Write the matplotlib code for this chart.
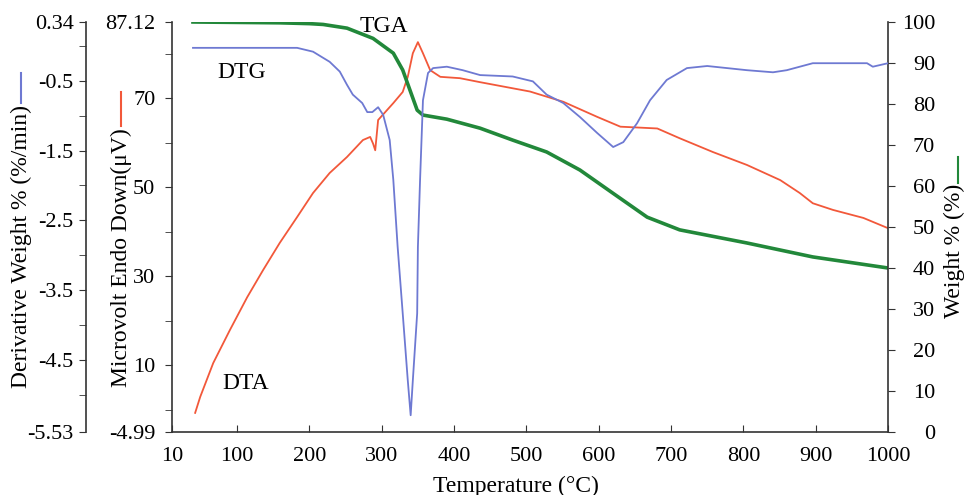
import matplotlib
matplotlib.use('Agg')
import matplotlib.pyplot as plt
from matplotlib.lines import Line2D
from matplotlib.ticker import FixedLocator

plt.rcParams['font.family'] = ['Liberation Serif', 'DejaVu Serif']
plt.rcParams['axes.unicode_minus'] = False

# TGA - weight % (right axis)
tga_temp = [39, 100, 159, 200, 219, 252, 288, 316, 329, 339, 349, 357, 390,
            436, 481, 528, 574, 620, 667, 712, 805, 896, 1000]
tga_wt = [100, 99.9, 99.8, 99.6, 99.4, 98.5, 96, 92.4, 88.3, 83.4, 78.5, 77.3,
          76.3, 74.1, 71.2, 68.3, 63.9, 58.2, 52.4, 49.3, 46.1, 42.7, 40]

# DTG - derivative weight %/min (outer left axis)
dtg_temp = [39, 183, 205, 228, 242, 252, 260, 273, 280, 287, 295, 302, 311,
            316, 322, 329, 336, 340, 343, 349, 350, 353, 357, 364, 371, 390,
            412, 436, 481, 509, 528, 551, 574, 598, 620, 634, 653, 671, 694,
            722, 750, 805, 841, 860, 896, 971, 979, 1000]
dtg_val = [-0.03, -0.03, -0.085, -0.23, -0.37, -0.56, -0.70, -0.82, -0.95,
           -0.95, -0.88, -0.99, -1.35, -1.92, -2.88, -3.83, -4.79, -5.29,
           -4.79, -3.83, -2.88, -1.92, -0.78, -0.39, -0.32, -0.30, -0.35,
           -0.42, -0.44, -0.51, -0.70, -0.82, -1.02, -1.25, -1.45, -1.38,
           -1.11, -0.78, -0.49, -0.32, -0.29, -0.35, -0.38, -0.35, -0.25,
           -0.25, -0.30, -0.25]

# DTA - microvolt (inner left axis)
dta_temp = [42, 49, 67, 90, 114, 136, 159, 183, 205, 228, 252, 274, 284, 288,
            291, 295, 316, 329, 336, 343, 350, 357, 367, 381, 408, 436, 505,
            551, 598, 630, 643, 681, 712, 758, 805, 851, 878, 896, 924, 966,
            1000]
dta_val = [-0.7, 2.9, 10.5, 17.9, 25.3, 31.4, 37.5, 43.3, 48.7, 53.2, 56.8,
           60.6, 61.3, 59.8, 58.3, 65.1, 68.9, 71.4, 74.8, 80.1, 82.6, 80.1,
           76.3, 74.8, 74.5, 73.6, 71.5, 69.2, 65.8, 63.6, 63.5, 63.2, 61.0,
           57.9, 55.0, 51.6, 48.7, 46.4, 44.9, 43.1, 40.8]

x_ticks = [10, 100, 200, 300, 400, 500, 600, 700, 800, 900, 1000]
dta_ticks = [87.12, 70, 50, 30, 10, -4.99]
dta_labels = ['87.12', '70', '50', '30', '10', '-4.99']
dtg_ticks = [0.34, -0.5, -1.5, -2.5, -3.5, -4.5, -5.53]
dtg_labels = ['0.34', '-0.5', '-1.5', '-2.5', '-3.5', '-4.5', '-5.53']
wt_ticks = list(range(0, 101, 10))

GREEN = '#22883a'
BLUE = '#6e79d2'
RED = '#f2583a'
AXCOL = '#333333'
FS = 16
LFS = 17

fig = plt.figure(figsize=(9.66, 4.95), dpi=100)
ax = fig.add_axes([172 / 966, 1 - 432 / 495, 716 / 966, 410 / 495])
ax_w = ax.twinx()
ax_d = ax.twinx()

ax.plot(dta_temp, dta_val, color=RED, lw=1.3)
ax_d.plot(dtg_temp, dtg_val, color=BLUE, lw=1.3)
ax_w.plot(tga_temp, tga_wt, color=GREEN, lw=2.6)

ax.set_xlim(10, 1000)
ax.set_ylim(-4.99, 87.12)
ax_w.set_ylim(0, 100)
ax_d.set_ylim(-5.53, 0.34)

ax.set_xticks(x_ticks)
ax.set_yticks(dta_ticks)
ax.set_yticklabels(dta_labels)
ax.yaxis.set_minor_locator(FixedLocator([80, 60, 40, 20, 0]))
ax_w.set_yticks(wt_ticks)
ax_d.set_yticks(dtg_ticks)
ax_d.set_yticklabels(dtg_labels)
ax_d.yaxis.set_minor_locator(FixedLocator([0, -1, -2, -3, -4, -5]))

# spines
for a in (ax, ax_w, ax_d):
    a.spines['top'].set_visible(False)
    for s in a.spines.values():
        s.set_color(AXCOL)
        s.set_linewidth(1.2)
ax.spines['right'].set_visible(False)
ax_w.spines['left'].set_visible(False)
ax_w.spines['bottom'].set_visible(False)
ax_d.spines['right'].set_visible(False)
ax_d.spines['bottom'].set_visible(False)
ax_d.spines['left'].set_visible(True)
ax_d.spines['left'].set_position(('axes', -0.12))
ax_d.yaxis.set_ticks_position('left')

ax.tick_params(axis='x', direction='in', length=5, labelsize=FS, pad=11,
               color=AXCOL)
ax.tick_params(axis='y', which='both', length=5, labelsize=FS, pad=7,
               color=AXCOL)
# right axis labels are right-aligned in the original
ax_w.tick_params(axis='y', length=5, labelsize=FS, pad=29, color=AXCOL)
for lbl in ax_w.get_yticklabels():
    lbl.set_horizontalalignment('right')
ax_d.tick_params(axis='y', which='both', length=5, labelsize=FS, pad=4,
                 color=AXCOL)

# curve labels
ax.text(303, 86, 'TGA', fontsize=17, ha='center', va='center')
ax.text(107, 75.7, 'DTG', fontsize=17, ha='center', va='center')
ax.text(112, 5.8, 'DTA', fontsize=17, ha='center', va='center')

# axis titles with colour keys
fig.text(516 / 966, 1 - 486 / 495, 'Temperature (°C)',
         fontsize=LFS, ha='center', va='center')
fig.text(21 / 966, 1 - 105 / 495, 'Derivative Weight % (%/min)',
         fontsize=LFS, rotation=90, ha='center', va='top')
fig.text(121 / 966, 1 - 128 / 495, 'Microvolt Endo Down(μV)',
         fontsize=LFS, rotation=90, ha='center', va='top')
fig.text(954 / 966, 1 - 184 / 495, 'Weight % (%)',
         fontsize=LFS, rotation=90, ha='center', va='top')

for xp, y0, y1, col in [(20.7, 73, 103, BLUE), (120.7, 92, 126, RED),
                        (958, 157, 183, GREEN)]:
    fig.add_artist(Line2D([xp / 966, xp / 966], [1 - y0 / 495, 1 - y1 / 495],
                          transform=fig.transFigure, color=col, lw=1.5))

fig.savefig('out.png', dpi=100)
